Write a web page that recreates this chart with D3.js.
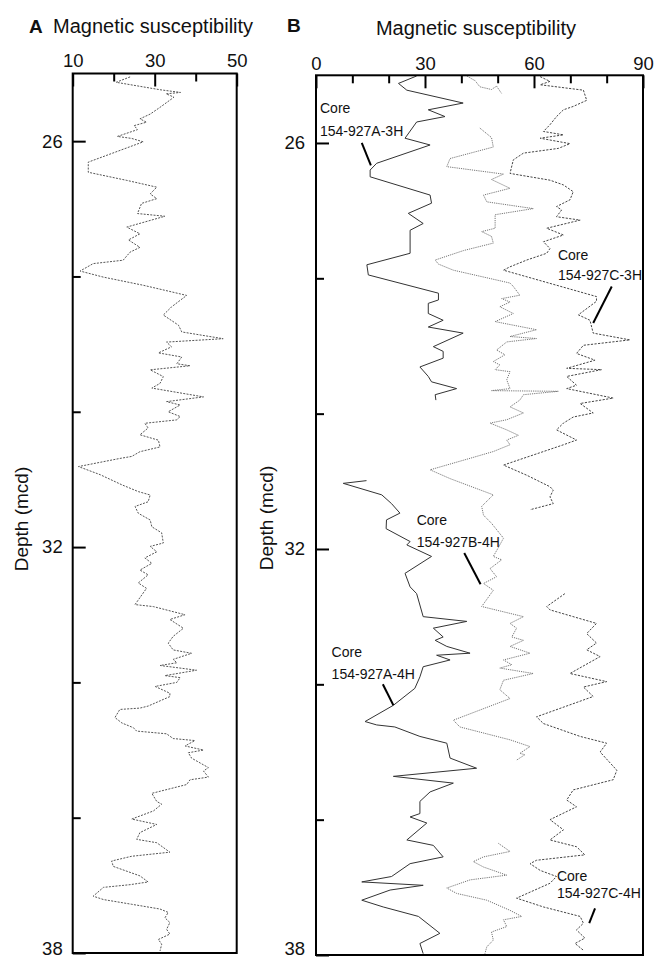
<!DOCTYPE html>
<html>
<head>
<meta charset="utf-8">
<script src="https://cdnjs.cloudflare.com/ajax/libs/d3/7.8.5/d3.min.js"></script>
<style>
  body { margin: 0; background: #fff; }
  text { font-family: "Liberation Sans", Arial, Helvetica, sans-serif; fill: #111; }
</style>
</head>
<body>
<div class="chart"></div>
<script>
// [depth (mcd), magnetic susceptibility]
// Panel A: spliced record
var spliceA = [
  [25.05,24.0],[25.13,20.6],[25.24,31.3],[25.28,36.3],[25.30,32.8],[25.35,34.7],[25.50,31.3],[25.60,28.9],
  [25.67,26.4],[25.72,28.0],[25.77,25.0],[25.83,25.8],[25.93,20.9],[25.96,24.4],[26.01,27.2],[26.31,13.8],
  [26.46,13.8],[26.58,23.2],[26.68,30.5],[26.78,28.9],[26.85,30.5],[26.92,26.8],[27.07,25.8],[27.11,32.5],
  [27.27,23.2],[27.37,26.4],[27.46,23.6],[27.57,26.4],[27.64,24.0],[27.76,22.3],[27.81,15.0],[27.92,11.8],
  [28.01,17.5],[28.13,27.2],[28.28,37.8],[28.45,34.1],[28.57,32.1],[28.72,35.8],[28.82,36.6],[28.92,46.7],
  [28.97,32.9],[29.04,34.1],[29.13,30.9],[29.19,36.6],[29.29,35.4],[29.32,38.6],[29.38,28.9],[29.48,32.1],
  [29.58,31.3],[29.65,29.3],[29.78,41.9],[29.85,32.9],[29.90,36.2],[30.00,33.3],[30.07,36.2],[30.12,35.4],
  [30.17,27.6],[30.24,28.4],[30.34,26.4],[30.42,30.9],[30.52,31.3],[30.59,26.4],[30.66,24.4],[30.69,21.5],
  [30.81,11.4],[30.93,16.7],[31.08,22.0],[31.18,26.0],[31.23,28.9],[31.33,28.4],[31.40,25.2],[31.50,26.0],
  [31.60,28.9],[31.70,29.3],[31.79,31.7],[31.94,32.1],[31.99,28.9],[32.07,30.5],[32.16,27.6],[32.24,29.3],
  [32.34,26.4],[32.41,28.4],[32.53,26.0],[32.61,28.0],[32.85,25.2],[32.88,29.7],[33.00,37.4],[33.07,33.7],
  [33.20,37.0],[33.32,34.5],[33.42,33.3],[33.52,34.5],[33.57,39.0],[33.66,34.5],[33.71,35.4],[33.75,31.3],
  [33.82,40.2],[33.90,32.5],[33.93,36.2],[34.00,35.4],[34.06,30.1],[34.16,33.7],[34.21,33.7],[34.35,28.4],
  [34.38,26.4],[34.40,21.5],[34.52,20.3],[34.60,22.0],[34.67,24.8],[34.72,25.6],[34.76,32.9],[34.83,34.5],
  [34.86,39.8],[34.94,37.4],[35.00,41.9],[35.04,38.2],[35.12,39.0],[35.26,43.1],[35.31,41.9],[35.40,43.1],
  [35.44,38.6],[35.51,37.8],[35.64,29.3],[35.76,30.5],[35.80,31.7],[35.90,29.7],[36.02,24.4],[36.10,30.5],
  [36.22,26.4],[36.32,25.6],[36.37,30.5],[36.51,33.7],[36.57,24.4],[36.64,19.5],[36.72,19.9],[36.86,26.4],
  [36.95,28.4],[36.99,24.0],[37.03,17.5],[37.16,15.0],[37.21,17.5],[37.28,24.4],[37.35,31.3],[37.40,33.3],
  [37.48,32.5],[37.55,33.7],[37.65,32.9],[37.72,33.7],[37.80,30.9],[37.87,31.7],[37.97,31.3]
];

// Panel B: individual cores
var core927A3H = [
  [25.01,27.7],[25.12,22.7],[25.22,25.0],[25.41,40.5],[25.51,30.9],[25.61,35.5],[25.69,27.7],[25.93,24.5],
  [26.03,31.4],[26.30,16.7],[26.40,14.9],[26.50,14.9],[26.77,31.4],[26.89,31.8],[27.04,25.4],[27.19,29.5],
  [27.29,25.9],[27.63,25.9],[27.80,14.0],[27.95,14.4],[28.22,33.7],[28.32,33.7],[28.37,30.9],[28.52,30.9],
  [28.62,35.0],[28.72,30.9],[28.81,40.5],[29.01,32.3],[29.08,35.0],[29.18,35.0],[29.31,28.6],[29.45,30.9],
  [29.53,31.8],[29.63,38.7],[29.72,32.8],[29.80,33.0]
];
var core927A4H = [
  [30.99,13.9],[31.03,7.5],[31.20,18.1],[31.33,20.8],[31.47,23.1],[31.57,19.4],[31.70,19.3],[31.89,25.9],
  [31.94,25.0],[32.11,31.8],[32.36,24.5],[32.56,25.9],[32.66,27.7],[33.00,29.5],[33.07,41.5],[33.17,32.3],
  [33.30,35.0],[33.35,32.8],[33.44,36.0],[33.54,42.4],[33.57,33.2],[33.64,36.9],[33.74,29.5],[33.89,28.6],
  [34.06,27.2],[34.31,21.3],[34.55,13.5],[34.60,16.7],[34.63,21.7],[34.77,28.6],[34.87,36.0],[35.09,36.9],
  [35.24,44.2],[35.36,21.3],[35.46,37.8],[35.59,31.4],[35.73,28.6],[35.91,28.6],[35.96,25.9],[36.05,30.5],
  [36.30,25.0],[36.38,32.3],[36.55,35.0],[36.65,25.9],[36.84,20.8],[36.92,12.6],[36.97,29.5],[37.04,20.4],
  [37.19,12.6],[37.29,18.5],[37.43,28.2],[37.68,34.1],[37.83,28.6],[37.98,29.5]
];
var core927B3H = [
  [25.01,41.5],[25.08,43.8],[25.17,45.1],[25.21,48.3],[25.16,49.7],[25.27,51.1]
];
var core927B4H = [
  [25.78,45.1],[25.92,48.3],[26.06,48.8],[26.23,36.9],[26.35,36.0],[26.46,51.6],[26.54,48.3],[26.67,53.4],
  [26.77,46.1],[26.87,47.0],[26.97,59.8],[27.06,49.3],[27.26,49.3],[27.31,45.6],[27.38,48.3],[27.48,48.8],
  [27.59,40.6],[27.73,32.8],[27.79,33.7],[27.88,37.8],[28.07,53.4],[28.12,54.3],[28.25,56.1],[28.30,51.1],
  [28.35,53.4],[28.42,50.6],[28.52,54.3],[28.64,49.3],[28.76,60.7],[28.86,53.4],[28.89,60.7],[28.94,52.5],
  [29.06,49.7],[29.13,52.0],[29.23,48.8],[29.28,50.6],[29.35,49.3],[29.38,53.4],[29.50,52.5],[29.63,53.4],
  [29.66,48.3],[29.67,66.7],[29.72,57.1],[29.80,56.1],[29.90,53.4],[29.99,57.1],[30.09,52.5],[30.14,47.9],
  [30.24,52.5],[30.32,55.7],[30.39,52.5],[30.46,53.4],[30.56,48.8],[30.66,42.4],[30.83,31.4],[30.96,36.9],
  [31.20,48.8],[31.37,45.6],[31.50,46.1],[31.62,48.3],[31.84,51.6],[31.94,50.6],[32.11,48.8],[32.16,51.1],
  [32.29,47.9],[32.41,49.7],[32.51,46.1],[32.61,48.8],[32.85,45.6],[33.00,57.1],[33.10,53.4],[33.17,55.2],
  [33.30,53.9],[33.35,57.1],[33.44,53.4],[33.54,58.9],[33.64,51.6],[33.71,53.9],[33.76,50.6],[33.84,59.8],
  [33.94,51.6],[34.08,50.6],[34.21,53.4],[34.53,37.8],[34.63,39.6],[34.82,53.4],[34.92,58.9],[35.02,56.1],
  [35.04,57.5],[35.12,55.2]
];
var core927B5H = [
  [36.35,50.2],[36.47,53.4],[36.55,46.1],[36.62,43.3],[36.70,46.1],[36.82,52.5],[36.89,42.4],[37.01,36.0],
  [37.09,38.7],[37.19,47.0],[37.34,53.4],[37.43,56.6],[37.48,51.6],[37.58,52.5],[37.66,48.3],[37.78,48.8],
  [37.88,47.0],[37.98,46.5]
];
var core927C3H = [
  [25.02,61.7],[25.09,64.4],[25.14,61.7],[25.22,73.6],[25.37,74.5],[25.46,70.8],[25.51,68.1],[25.61,66.2],
  [25.73,64.4],[25.83,62.6],[25.88,68.1],[25.93,61.7],[26.01,69.9],[26.08,66.7],[26.15,57.1],[26.25,54.3],
  [26.45,53.4],[26.55,64.4],[26.62,68.1],[26.72,70.8],[26.84,69.9],[26.94,66.2],[26.99,67.6],[27.09,66.2],
  [27.14,72.7],[27.26,63.5],[27.36,68.1],[27.46,62.6],[27.56,64.4],[27.63,63.5],[27.73,58.0],[27.83,53.4],
  [27.88,51.6],[28.27,77.2],[28.34,77.2],[28.54,72.2],[28.62,75.4],[28.81,76.3],[28.91,86.4],[28.99,73.6],
  [29.11,71.7],[29.21,76.8],[29.33,69.0],[29.35,78.6],[29.45,69.0],[29.58,71.7],[29.63,69.0],[29.77,81.8],
  [29.85,72.7],[29.99,76.3],[30.05,70.8],[30.14,68.1],[30.24,66.2],[30.39,71.7],[30.46,68.1],[30.76,51.6],
  [30.91,58.0],[31.08,64.4],[31.13,65.3],[31.23,64.4],[31.33,65.3],[31.42,58.9]
];
var core927C4H = [
  [32.66,68.5],[32.85,63.5],[32.90,64.4],[33.10,77.2],[33.25,74.5],[33.39,77.2],[33.49,74.5],[33.59,78.2],
  [33.84,69.9],[33.96,80.0],[34.04,73.6],[34.18,76.3],[34.48,60.7],[34.58,62.6],[34.77,72.7],[34.87,80.0],
  [35.00,78.2],[35.27,82.8],[35.41,81.8],[35.56,70.8],[35.71,69.0],[35.81,71.7],[36.00,64.4],[36.15,68.1],
  [36.30,64.4],[36.40,71.7],[36.52,74.0],[36.60,60.7],[36.65,58.9],[36.75,61.7],[36.84,66.2],[36.94,64.4],
  [37.16,55.2],[37.29,62.6],[37.43,72.7],[37.53,73.6],[37.63,71.7],[37.75,74.0],[37.83,71.3],[37.93,73.6]
];

// axis ticks
var ticksA = [10, 20, 30, 40, 50];
var labelsA = [10, 30, 50];
var ticksB = [0, 10, 20, 30, 40, 50, 60, 70, 80, 90];
var labelsB = [0, 30, 60, 90];
var depthTicks = [26, 28, 30, 32, 34, 36, 38];
var depthLabels = [26, 32, 38];

var svg = d3.select(".chart")
  .append("svg")
  .attr("width", 655)
  .attr("height", 958);

function addPanel(opt) {
  var x = d3.scaleLinear().domain(opt.xDomain).range([opt.left, opt.right]);
  var y = d3.scaleLinear().domain([25, 38]).range([opt.top, opt.bottom]);
  var g = svg.append("g");

  var line = d3.line()
    .x(function(d) { return x(d[1]); })
    .y(function(d) { return y(d[0]); });

  opt.series.forEach(function(s) {
    g.append("path")
      .datum(s.data)
      .attr("d", line)
      .attr("fill", "none")
      .attr("stroke", s.color)
      .attr("stroke-width", s.width)
      .attr("stroke-dasharray", s.dash);
  });

  // frame
  g.append("rect")
    .attr("x", opt.left)
    .attr("y", opt.top)
    .attr("width", opt.right - opt.left)
    .attr("height", opt.bottom - opt.top)
    .attr("fill", "none")
    .attr("stroke", "#000")
    .attr("stroke-width", 2);

  // top axis, ticks pointing inward
  var topAxis = d3.axisTop(x)
    .tickValues(opt.xTicks)
    .tickSize(-8)
    .tickPadding(opt.xPad)
    .tickFormat(function(d) { return opt.xLabels.indexOf(d) >= 0 ? d : ""; });
  var ta = g.append("g")
    .attr("transform", "translate(0," + opt.top + ")")
    .call(topAxis);
  ta.select(".domain").remove();
  ta.selectAll(".tick line")
    .attr("stroke", "#000")
    .attr("stroke-width", 2)
    .attr("y2", function(d) { return opt.xLabels.indexOf(d) >= 0 ? 13 : 8; });
  ta.selectAll(".tick text")
    .attr("fill", "#111")
    .style("font-family", "'Liberation Sans', Arial, sans-serif")
    .style("font-size", "18.5px");

  // left depth axis
  var leftAxis = d3.axisLeft(y)
    .tickValues(depthTicks)
    .tickSize(-8)
    .tickPadding(opt.yPad)
    .tickFormat(function(d) { return depthLabels.indexOf(d) >= 0 ? d : ""; });
  var la = g.append("g")
    .attr("transform", "translate(" + opt.left + ",0)")
    .call(leftAxis);
  la.select(".domain").remove();
  la.selectAll(".tick line")
    .attr("stroke", "#000")
    .attr("stroke-width", 2)
    .attr("x2", function(d) { return depthLabels.indexOf(d) >= 0 ? 13 : 8; });
  // the bottom label sits a little higher so it stays inside the page
  la.selectAll(".tick text")
    .attr("fill", "#111")
    .attr("dy", function(d) { return d === 38 ? opt.lastDy : "0.32em"; })
    .style("font-family", "'Liberation Sans', Arial, sans-serif")
    .style("font-size", "18.5px");

  // depth label
  g.append("text")
    .attr("transform", "translate(" + opt.depthLabelX + "," + opt.depthLabelY + ") rotate(-90)")
    .attr("text-anchor", "middle")
    .attr("dy", "0.35em")
    .style("font-size", "19px")
    .text("Depth (mcd)");

  return { x: x, y: y, g: g };
}

var panelA = addPanel({
  xDomain: [10, 50], left: 72.7, right: 236.7, top: 73.5, bottom: 953,
  xTicks: ticksA, xLabels: labelsA, xPad: 6.5, yPad: 10, lastDy: "0.1em",
  depthLabelX: 21, depthLabelY: 519,
  series: [
    { data: spliceA, color: "#555", width: 1, dash: "2,1.3" }
  ]
});

var panelB = addPanel({
  xDomain: [0, 90], left: 316, right: 643, top: 75.3, bottom: 955,
  xTicks: ticksB, xLabels: labelsB, xPad: 5.5, yPad: 11, lastDy: "-0.05em",
  depthLabelX: 266, depthLabelY: 518,
  series: [
    { data: core927A3H, color: "#333", width: 1, dash: null },
    { data: core927A4H, color: "#333", width: 1, dash: null },
    { data: core927B3H, color: "#777", width: 1, dash: "1.2,1" },
    { data: core927B4H, color: "#777", width: 1, dash: "1.2,1" },
    { data: core927B5H, color: "#777", width: 1, dash: "1.2,1" },
    { data: core927C3H, color: "#444", width: 1, dash: "2.2,1.4" },
    { data: core927C4H, color: "#444", width: 1, dash: "2.2,1.4" }
  ]
});

// panel titles
svg.append("text").attr("x", 29).attr("y", 33)
  .style("font-size", "19px").style("font-weight", "bold").text("A");
svg.append("text").attr("x", 53).attr("y", 33)
  .style("font-size", "20px").text("Magnetic susceptibility");
svg.append("text").attr("x", 287).attr("y", 32)
  .style("font-size", "19px").style("font-weight", "bold").text("B");
svg.append("text").attr("x", 476).attr("y", 35)
  .attr("text-anchor", "middle")
  .style("font-size", "20px").text("Magnetic susceptibility");

// core labels with leader lines (positions in data units of panel B)
var coreNotes = [
  { name: "154-927A-3H", v: 1.1,  d1: 25.56, d2: 25.90, from: [26.00, 12.6], to: [26.33, 15.1] },
  { name: "154-927C-3H", v: 66.6, d1: 27.73, d2: 28.03, from: [28.12, 81.4], to: [28.66, 76.3] },
  { name: "154-927B-4H", v: 27.7, d1: 31.65, d2: 31.97, from: [32.06, 40.8], to: [32.52, 45.3] },
  { name: "154-927A-4H", v: 4.3,  d1: 33.59, d2: 33.92, from: [34.00, 18.4], to: [34.31, 21.3] },
  { name: "154-927C-4H", v: 66.3, d1: 36.90, d2: 37.16, from: [37.31, 76.8], to: [37.53, 75.2] }
];

var notes = panelB.g.selectAll(".note")
  .data(coreNotes)
  .enter()
  .append("g")
  .attr("class", "note");

notes.append("text")
  .attr("x", function(d) { return panelB.x(d.v); })
  .attr("y", function(d) { return panelB.y(d.d1); })
  .style("font-size", "14px")
  .text("Core");
notes.append("text")
  .attr("x", function(d) { return panelB.x(d.v); })
  .attr("y", function(d) { return panelB.y(d.d2); })
  .style("font-size", "14px")
  .text(function(d) { return d.name; });
notes.append("line")
  .attr("x1", function(d) { return panelB.x(d.from[1]); })
  .attr("y1", function(d) { return panelB.y(d.from[0]); })
  .attr("x2", function(d) { return panelB.x(d.to[1]); })
  .attr("y2", function(d) { return panelB.y(d.to[0]); })
  .attr("stroke", "#000")
  .attr("stroke-width", 2);
</script>
</body>
</html>
